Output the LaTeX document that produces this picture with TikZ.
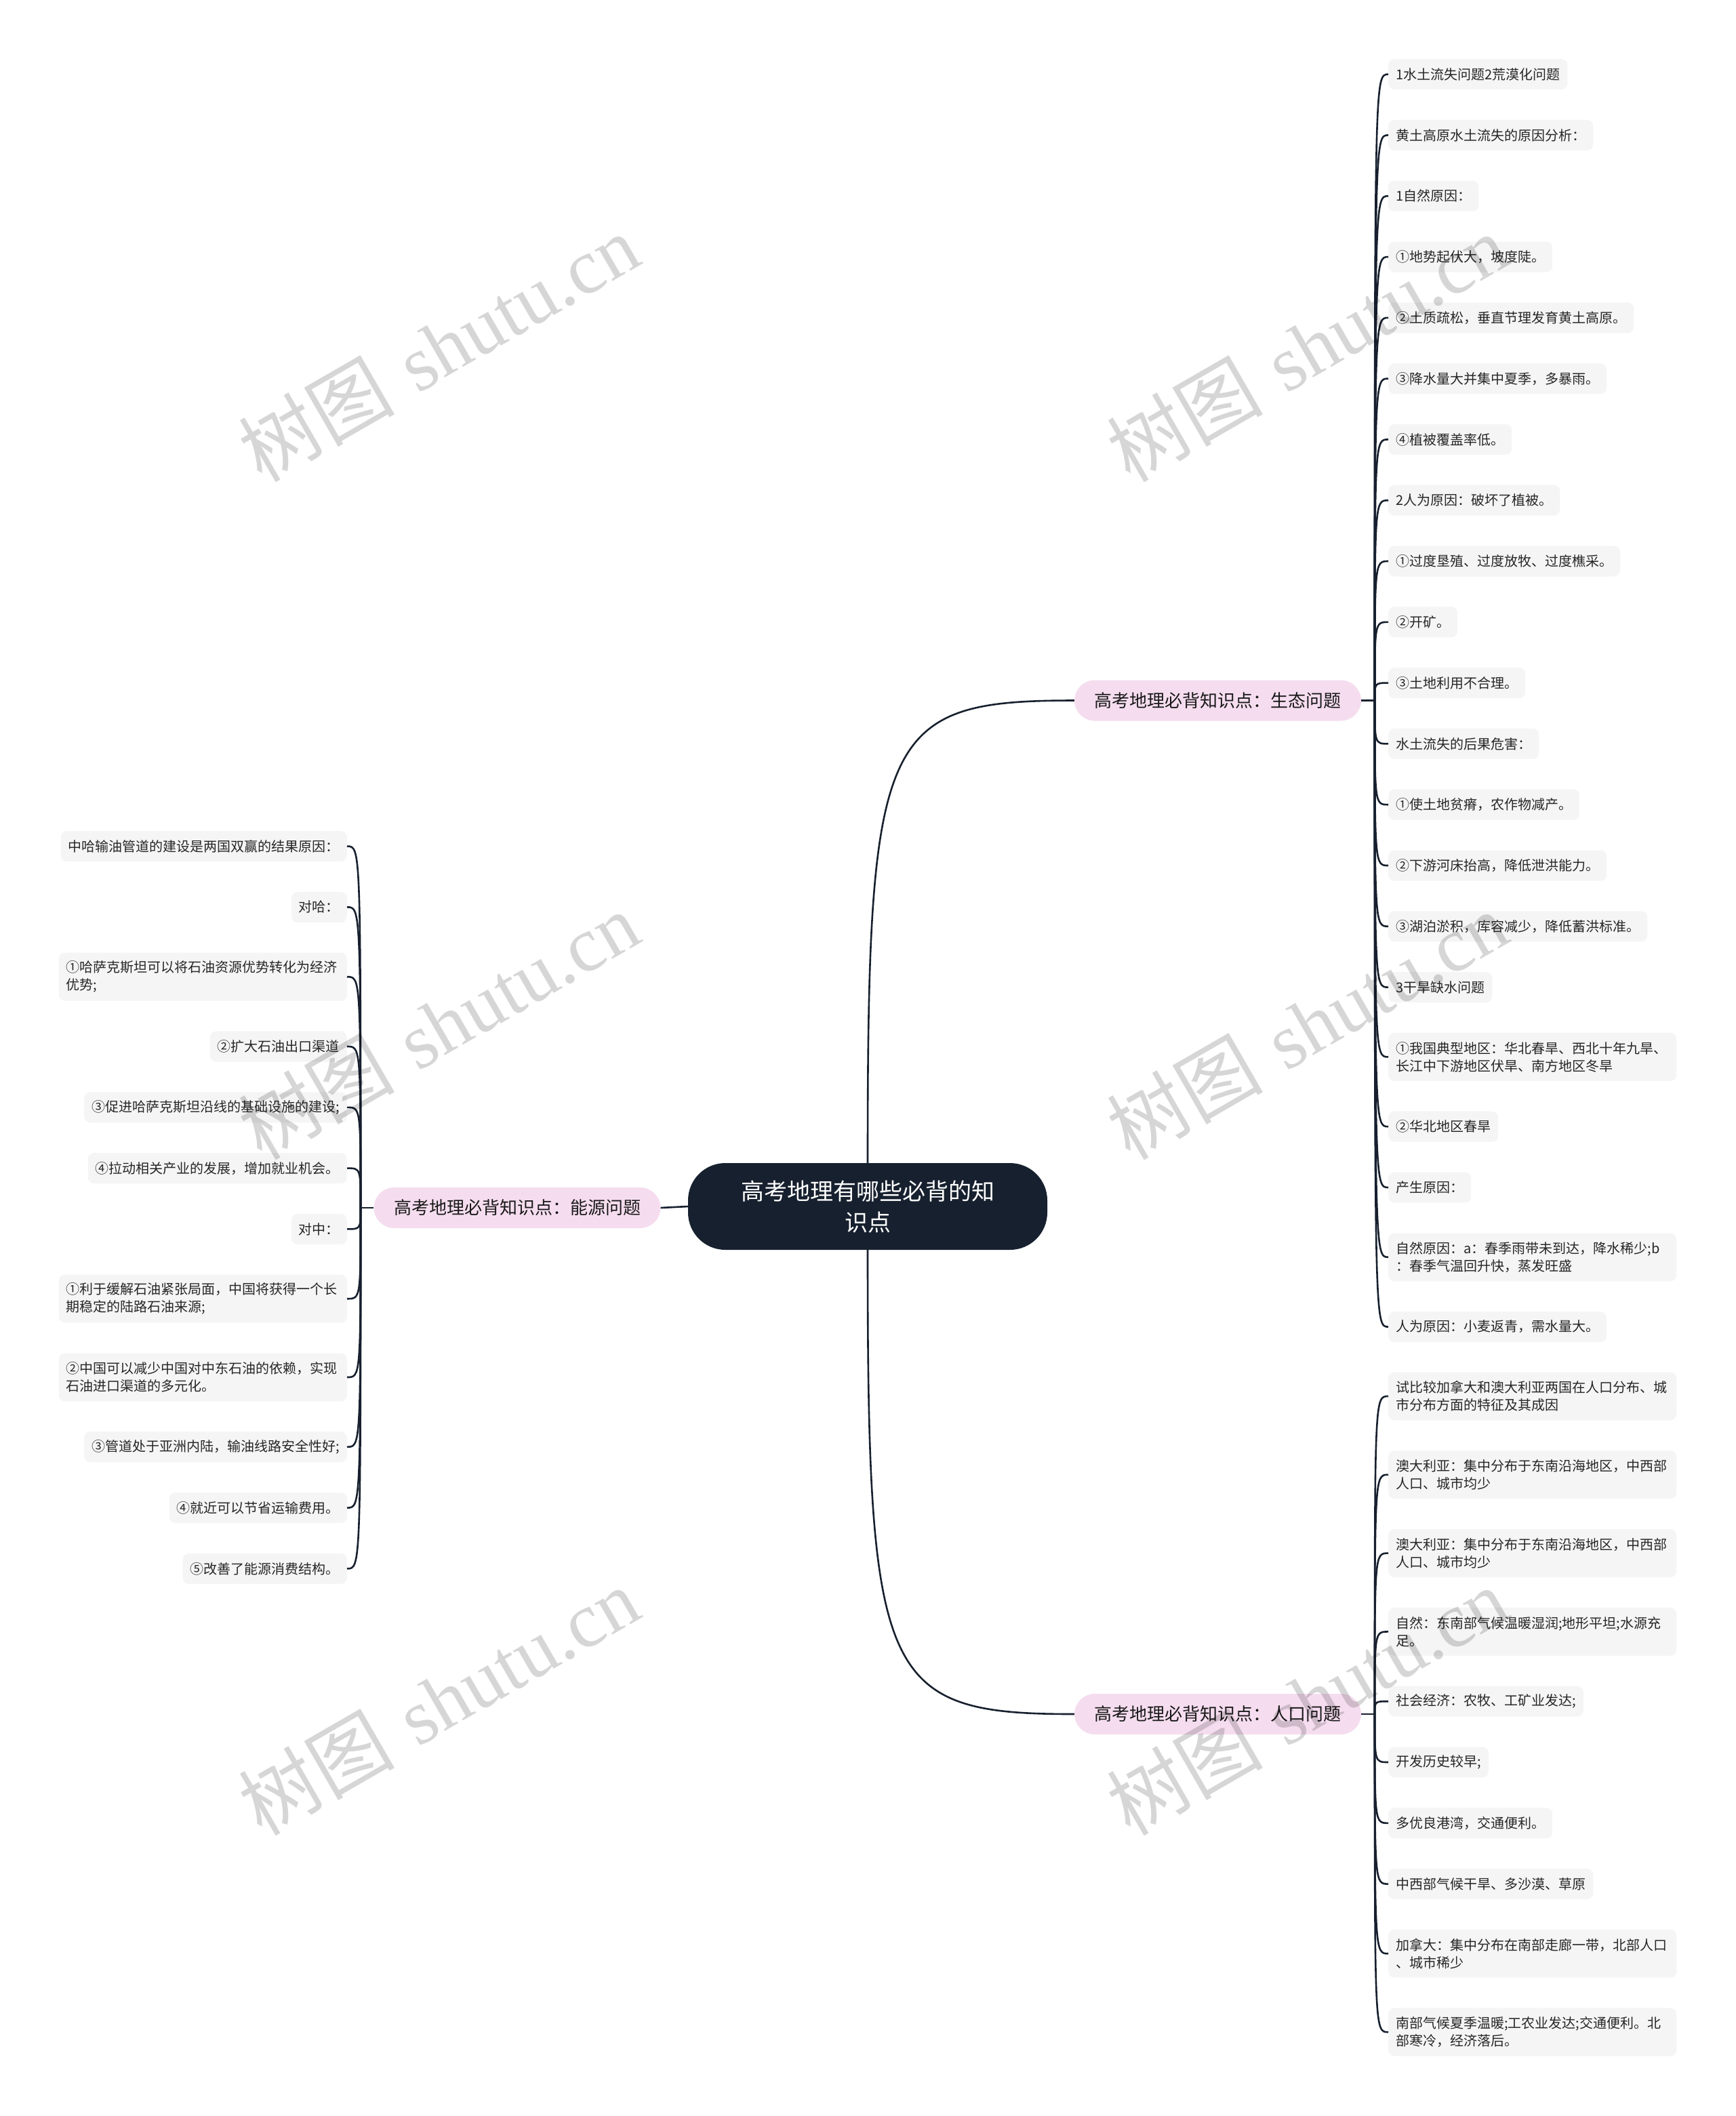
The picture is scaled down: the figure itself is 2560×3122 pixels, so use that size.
\documentclass[tikz,border=0pt]{standalone}
\usepackage{fontspec}
\newfontfamily\cjk{Noto Sans CJK SC}
\newfontfamily\wmserif{Liberation Serif}
\definecolor{navy}{HTML}{17202E}
\definecolor{pinkfill}{HTML}{F5DDEF}
\definecolor{leaffill}{HTML}{F5F5F5}
\begin{document}
\begin{tikzpicture}[x=1pt,y=-1pt,
  leaf/.style={font=\cjk\fontsize{20}{26}\selectfont, fill=leaffill, rounded corners=9, inner xsep=11, inner ysep=0, minimum height=45, align=left, text=black!85},
  leafR/.style={leaf, anchor=west},
  leafL/.style={leaf, anchor=east},
  two/.style={text width=403, minimum height=71},
  branch/.style={fill=pinkfill, rounded corners=30, minimum width=423, minimum height=60, inner sep=0, font=\cjk\fontsize{26}{30}\selectfont, text=black!90},
  rootbox/.style={fill=navy, rounded corners=55, minimum width=530, minimum height=128, inner sep=0, text=white, align=center, font=\cjk\fontsize{34}{46}\selectfont},
  link/.style={draw=navy, line width=2.6},
  wm/.style={font=\fontsize{115}{115}\selectfont, text=black, text opacity=0.16, rotate=30, inner sep=0}
]
\useasboundingbox (0,0) rectangle (2560,3122);
\fill[white] (0,0) rectangle (2560,3122);

% root and branches
\node[rootbox] (root) at (1280,1780) {高考地理有哪些必背的知\\识点};
\node[branch] (bA) at (1796.5,1033.5) {高考地理必背知识点：生态问题};
\node[branch] (bB) at (763,1782) {高考地理必背知识点：能源问题};
\node[branch] (bC) at (1796.5,2529) {高考地理必背知识点：人口问题};

% right top leaves
\node[leafR] (a1) at (2048,109.6) {1水土流失问题2荒漠化问题};
\node[leafR] (a2) at (2048,199.4) {黄土高原水土流失的原因分析：};
\node[leafR] (a3) at (2048,289.2) {1自然原因：};
\node[leafR] (a4) at (2048,379.0) {①地势起伏大，坡度陡。};
\node[leafR] (a5) at (2048,468.8) {②土质疏松，垂直节理发育黄土高原。};
\node[leafR] (a6) at (2048,558.6) {③降水量大并集中夏季，多暴雨。};
\node[leafR] (a7) at (2048,648.4) {④植被覆盖率低。};
\node[leafR] (a8) at (2048,738.2) {2人为原因：破坏了植被。};
\node[leafR] (a9) at (2048,828.0) {①过度垦殖、过度放牧、过度樵采。};
\node[leafR] (a10) at (2048,917.8) {②开矿。};
\node[leafR] (a11) at (2048,1007.6) {③土地利用不合理。};
\node[leafR] (a12) at (2048,1097.4) {水土流失的后果危害：};
\node[leafR] (a13) at (2048,1187.2) {①使土地贫瘠，农作物减产。};
\node[leafR] (a14) at (2048,1277.0) {②下游河床抬高，降低泄洪能力。};
\node[leafR] (a15) at (2048,1366.8) {③湖泊淤积，库容减少，降低蓄洪标准。};
\node[leafR] (a16) at (2048,1456.6) {3干旱缺水问题};
\node[leafR,two] (a17) at (2048,1559.4) {①我国典型地区：华北春旱、西北十年九旱、\\长江中下游地区伏旱、南方地区冬旱};
\node[leafR] (a18) at (2048,1662.2) {②华北地区春旱};
\node[leafR] (a19) at (2048,1752.0) {产生原因：};
\node[leafR,two] (a20) at (2048,1854.8) {自然原因：a：春季雨带未到达，降水稀少;b\\：春季气温回升快，蒸发旺盛};
\node[leafR] (a21) at (2048,1957.6) {人为原因：小麦返青，需水量大。};

% right bottom leaves
\node[leafR,two] (c1) at (2048,2060.0) {试比较加拿大和澳大利亚两国在人口分布、城\\市分布方面的特征及其成因};
\node[leafR,two] (c2) at (2048,2175.8) {澳大利亚：集中分布于东南沿海地区，中西部\\人口、城市均少};
\node[leafR,two] (c3) at (2048,2291.6) {澳大利亚：集中分布于东南沿海地区，中西部\\人口、城市均少};
\node[leafR,two] (c4) at (2048,2407.4) {自然：东南部气候温暖湿润;地形平坦;水源充\\足。};
\node[leafR] (c5) at (2048,2510.2) {社会经济：农牧、工矿业发达;};
\node[leafR] (c6) at (2048,2600.0) {开发历史较早;};
\node[leafR] (c7) at (2048,2689.8) {多优良港湾，交通便利。};
\node[leafR] (c8) at (2048,2779.6) {中西部气候干旱、多沙漠、草原};
\node[leafR,two] (c9) at (2048,2882.4) {加拿大：集中分布在南部走廊一带，北部人口\\、城市稀少};
\node[leafR,two] (c10) at (2048,2998.2) {南部气候夏季温暖;工农业发达;交通便利。北\\部寒冷，经济落后。};

% left leaves
\node[leafL] (b1) at (512,1248.6) {中哈输油管道的建设是两国双赢的结果原因：};
\node[leafL] (b2) at (512,1338.4) {对哈：};
\node[leafL,two] (b3) at (512,1441.2) {①哈萨克斯坦可以将石油资源优势转化为经济\\优势;};
\node[leafL] (b4) at (512,1544.0) {②扩大石油出口渠道};
\node[leafL] (b5) at (512,1633.8) {③促进哈萨克斯坦沿线的基础设施的建设;};
\node[leafL] (b6) at (512,1723.6) {④拉动相关产业的发展，增加就业机会。};
\node[leafL] (b7) at (512,1813.4) {对中：};
\node[leafL,two] (b8) at (512,1916.2) {①利于缓解石油紧张局面，中国将获得一个长\\期稳定的陆路石油来源;};
\node[leafL,two] (b9) at (512,2032.0) {②中国可以减少中国对中东石油的依赖，实现\\石油进口渠道的多元化。};
\node[leafL] (b10) at (512,2134.8) {③管道处于亚洲内陆，输油线路安全性好;};
\node[leafL] (b11) at (512,2224.6) {④就近可以节省运输费用。};
\node[leafL] (b12) at (512,2314.4) {⑤改善了能源消费结构。};

% root to branches
\draw[link] (root.north) .. controls (1280,1080) and (1300,1033.5) .. (bA.west);
\draw[link] (root.south) .. controls (1280,2480) and (1300,2529) .. (bC.west);
\draw[link] (root.west) -- (bB.east);

% junctions
\coordinate (jA) at (2028,1033.5);
\coordinate (jC) at (2028,2529);
\coordinate (jB) at (532,1782);
\draw[link] (bA.east) -- (jA);
\draw[link] (bC.east) -- (jC);
\draw[link] (bB.west) -- (jB);

\foreach \i in {1,...,21} {
  \draw[link] (jA) .. controls (jA |- a\i.west) and (jA |- a\i.west) .. (a\i.west);
}
\foreach \i in {1,...,10} {
  \draw[link] (jC) .. controls (jC |- c\i.west) and (jC |- c\i.west) .. (c\i.west);
}
\foreach \i in {1,...,12} {
  \draw[link] (jB) .. controls (jB |- b\i.east) and (jB |- b\i.east) .. (b\i.east);
}

% watermarks
\node[wm] (wm1) at (647,513) {{\cjk 树图} {\wmserif shutu.cn}};
\node[wm] (wm2) at (647,1513) {{\cjk 树图} {\wmserif shutu.cn}};
\node[wm] (wm3) at (647,2510) {{\cjk 树图} {\wmserif shutu.cn}};
\node[wm] (wm4) at (1928,513) {{\cjk 树图} {\wmserif shutu.cn}};
\node[wm] (wm5) at (1928,1513) {{\cjk 树图} {\wmserif shutu.cn}};
\node[wm] (wm6) at (1928,2510) {{\cjk 树图} {\wmserif shutu.cn}};
\end{tikzpicture}
\end{document}
